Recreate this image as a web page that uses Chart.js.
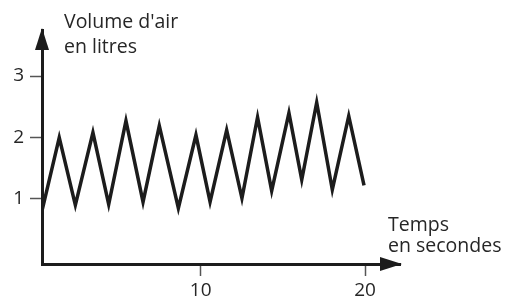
<!DOCTYPE html>
<html>
<head>
<meta charset="utf-8">
<script src="https://cdn.jsdelivr.net/npm/chart.js@4.4.1/dist/chart.umd.min.js"></script>
<style>
  body { margin: 0; background: #ffffff; }
  canvas { display: block; }
</style>
</head>
<body>
<canvas id="breathCanvas" width="514" height="304"></canvas>
<script>
const timeValues = [0.30, 1.39, 2.37, 3.44, 4.40, 5.45, 6.49, 7.48, 8.64, 9.71, 10.57, 11.58, 12.51, 13.46, 14.32, 15.37, 16.15, 17.06, 18.01, 19.01, 19.94]
const volumeValues = [0.76, 2.00, 0.90, 2.08, 0.91, 2.27, 0.95, 2.19, 0.85, 2.04, 0.95, 2.12, 1.01, 2.33, 1.13, 2.40, 1.31, 2.57, 1.15, 2.35, 1.22]

const xTickValues = [10, 20]
const yTickValues = [1, 2, 3]

const yAxisTitle = ["Volume d'air", "en litres"]
const xAxisTitle = ["Temps", "en secondes"]

const inkColor = "#1c1c1c";
const textColor = "#262626";
const fontFamily = "'Open Sans', sans-serif";

var points = [];
for (let i = 0; i < timeValues.length; i++)
  points.push({x: timeValues[i], y: volumeValues[i]});

// arrow heads on both axes + the two axis captions
const axisDecor = {
  id: "axisDecor",
  afterDraw(chart) {
    const ctx = chart.ctx;
    const area = chart.chartArea;

    ctx.save();
    ctx.fillStyle = inkColor;

    ctx.beginPath();
    ctx.moveTo(area.right + 2, area.bottom);
    ctx.lineTo(area.right - 20, area.bottom - 7);
    ctx.lineTo(area.right - 20, area.bottom + 7);
    ctx.closePath();
    ctx.fill();

    ctx.beginPath();
    ctx.moveTo(area.left, area.top - 2);
    ctx.lineTo(area.left - 7, area.top + 20);
    ctx.lineTo(area.left + 7, area.top + 20);
    ctx.closePath();
    ctx.fill();

    ctx.fillStyle = textColor;
    ctx.font = "19.5px " + fontFamily;
    ctx.textAlign = "left";
    ctx.textBaseline = "alphabetic";
    ctx.fillText(yAxisTitle[0], area.left + 22, 28);
    ctx.fillText(yAxisTitle[1], area.left + 22, 53);
    ctx.fillText(xAxisTitle[0], area.right - 12, 231);
    ctx.fillText(xAxisTitle[1], area.right - 12, 252);
    ctx.restore();
  }
};

new Chart("breathCanvas", {
  type: "scatter",
  data: {
    datasets: [{
      data: points,
      showLine: true,
      borderColor: inkColor,
      borderWidth: 3.5,
      borderJoinStyle: "miter",
      pointRadius: 0,
      tension: 0,
      fill: false
    }]
  },
  options: {
    responsive: false,
    animation: false,
    layout: {padding: {top: 30, right: 114, left: 0, bottom: 0}},
    plugins: {
      legend: {display: false},
      tooltip: {enabled: false}
    },
    scales: {
      x: {
        type: "linear",
        min: 0.34,
        max: 22.13,
        afterBuildTicks: (scale) => { scale.ticks = xTickValues.map(v => ({value: v})); },
        afterFit: (scale) => { scale.height = 40; },
        border: {display: true, color: inkColor, width: 3},
        grid: {drawOnChartArea: false, drawTicks: true, tickLength: 12, tickWidth: 1.5, tickColor: "#555555", color: "#555555"},
        ticks: {color: textColor, padding: 3, font: {family: fontFamily, size: 19}, maxRotation: 0}
      },
      y: {
        type: "linear",
        min: -0.06,
        max: 3.75,
        afterBuildTicks: (scale) => { scale.ticks = yTickValues.map(v => ({value: v})); },
        afterFit: (scale) => { scale.width = 42; },
        border: {display: true, color: inkColor, width: 3},
        grid: {drawOnChartArea: false, drawTicks: true, tickLength: 12, tickWidth: 1.5, tickColor: "#555555", color: "#555555"},
        ticks: {color: textColor, padding: 6, font: {family: fontFamily, size: 19}}
      }
    }
  },
  plugins: [axisDecor]
});
</script>
</body>
</html>
